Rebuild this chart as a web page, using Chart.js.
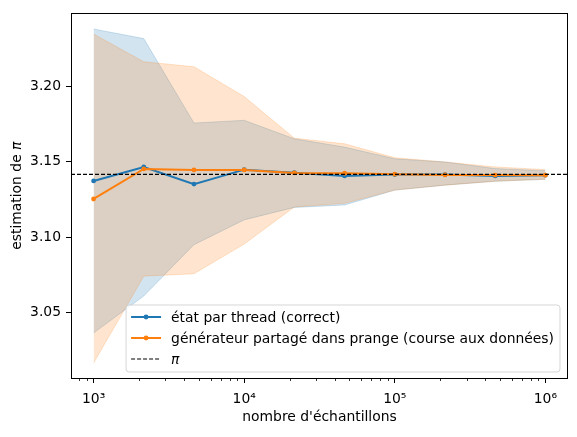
<!DOCTYPE html>
<html><head><meta charset="utf-8">
<script src="https://cdn.jsdelivr.net/npm/chart.js@4/dist/chart.umd.min.js"></script>
<style>html,body{margin:0;padding:0;background:#fff}#wrap{width:577px;height:437px}canvas{display:block}</style>
</head><body>
<div id="wrap"><canvas id="c" width="577" height="437"></canvas></div>
<script>
const samples = [1000, 2154, 4642, 10000, 21544, 46416, 100000, 215443, 464159, 1000000];
const perThreadMean = [3.1373, 3.1466, 3.1352, 3.1448, 3.1428, 3.1406, 3.1415, 3.1415, 3.1406, 3.1411];
const perThreadLow  = [3.0362, 3.0608, 3.0949, 3.1114, 3.1197, 3.1213, 3.1312, 3.1345, 3.1371, 3.1384];
const perThreadHigh = [3.2383, 3.2319, 3.1758, 3.1776, 3.1653, 3.1598, 3.1520, 3.1499, 3.1455, 3.1441];
const sharedMean = [3.1253, 3.1453, 3.1446, 3.1446, 3.1426, 3.1424, 3.1418, 3.1413, 3.1412, 3.1411];
const sharedLow  = [3.0162, 3.0740, 3.0756, 3.0953, 3.1200, 3.1224, 3.1312, 3.1345, 3.1371, 3.1384];
const sharedHigh = [3.2350, 3.2165, 3.2132, 3.1934, 3.1657, 3.1620, 3.1527, 3.1499, 3.1466, 3.1448];
const piValue = Math.PI;
const xTicks = [1e3, 1e4, 1e5, 1e6];
const yTicks = [3.05, 3.10, 3.15, 3.20];
const seriesLabels = ["état par thread (correct)", "générateur partagé dans prange (course aux données)", "π"];
const xTitle = "nombre d'échantillons";
const yTitleMain = "estimation de ";
const yTitleSymbol = "π";
const xMin = 708, xMax = 1.413e6, yMin = 3.0063, yMax = 3.2487;

const BLUE = '#1f77b4', ORANGE = '#ff7f0e';
const BLUE_A = 'rgba(31,119,180,0.2)', ORANGE_A = 'rgba(255,127,14,0.2)';
const FONT = 'DejaVu Sans';
const FS = 13.9;

const pts = arr => samples.map((x, i) => ({x, y: arr[i]}));
const sup = {'0':'⁰','1':'¹','2':'²','3':'³','4':'⁴','5':'⁵','6':'⁶','7':'⁷','8':'⁸','9':'⁹','-':'⁻'};

const datasets = [
  {label: seriesLabels[2], data: [{x: xMin, y: piValue}, {x: xMax, y: piValue}], borderColor: '#000', borderWidth: 1.2, borderDash: [4, 2], pointRadius: 0, fill: false, order: 0},
  {label: seriesLabels[1], data: pts(sharedMean), borderColor: ORANGE, backgroundColor: ORANGE, borderWidth: 2, pointRadius: 2.4, pointBorderWidth: 0, fill: false, order: 1},
  {label: seriesLabels[0], data: pts(perThreadMean), borderColor: BLUE, backgroundColor: BLUE, borderWidth: 2, pointRadius: 2.4, pointBorderWidth: 0, fill: false, order: 2},
  {label: 'sh-high', data: pts(sharedHigh), borderColor: ORANGE_A, backgroundColor: ORANGE_A, borderWidth: 1, pointRadius: 0, fill: '+1', order: 3},
  {label: 'sh-low', data: pts(sharedLow), borderColor: ORANGE_A, backgroundColor: ORANGE_A, borderWidth: 1, pointRadius: 0, fill: false, order: 3},
  {label: 'pt-high', data: pts(perThreadHigh), borderColor: BLUE_A, backgroundColor: BLUE_A, borderWidth: 1, pointRadius: 0, fill: '+1', order: 4},
  {label: 'pt-low', data: pts(perThreadLow), borderColor: BLUE_A, backgroundColor: BLUE_A, borderWidth: 1, pointRadius: 0, fill: false, order: 4}
];

const decor = {
  id: 'decor',
  afterDraw(chart) {
    const ctx = chart.ctx, a = chart.chartArea, xs = chart.scales.x;
    ctx.save();
    // minor ticks on log x axis
    ctx.strokeStyle = '#000'; ctx.lineWidth = 0.8;
    for (let e = 2; e <= 6; e++) {
      for (let m = 2; m <= 9; m++) {
        const v = m * Math.pow(10, e);
        if (v < xMin || v > xMax) continue;
        const px = Math.round(xs.getPixelForValue(v)) + 0.5;
        ctx.beginPath(); ctx.moveTo(px, a.bottom); ctx.lineTo(px, a.bottom + 3); ctx.stroke();
      }
    }
    // y axis title with italic pi
    const normalFont = FS + 'px "' + FONT + '"';
    const italicFont = 'italic ' + FS + 'px "' + FONT + '"';
    ctx.font = normalFont;
    const w1 = ctx.measureText(yTitleMain).width;
    ctx.font = italicFont;
    const w2 = ctx.measureText(yTitleSymbol).width;
    const cyT = (a.top + a.bottom) / 2;
    ctx.translate(17, cyT);
    ctx.rotate(-Math.PI / 2);
    ctx.fillStyle = '#000'; ctx.textBaseline = 'middle'; ctx.textAlign = 'left';
    const start = -(w1 + w2) / 2;
    ctx.font = normalFont; ctx.fillText(yTitleMain, start, 0);
    ctx.font = italicFont; ctx.fillText(yTitleSymbol, start + w1, 0);
    ctx.setTransform(1, 0, 0, 1, 0, 0);
    // legend
    ctx.font = normalFont;
    const items = [
      {text: seriesLabels[0], color: BLUE, dash: false},
      {text: seriesLabels[1], color: ORANGE, dash: false},
      {text: seriesLabels[2], color: '#000', dash: true}
    ];
    let maxW = 0;
    items.forEach(it => { maxW = Math.max(maxW, ctx.measureText(it.text).width); });
    const right = a.right - 8, bottom = a.bottom - 6;
    const w = 5 + 30 + 10 + maxW + 6, h = 67;
    const left = right - w, top = bottom - h;
    const r = 3;
    ctx.beginPath();
    ctx.moveTo(left + r, top); ctx.lineTo(right - r, top); ctx.arcTo(right, top, right, top + r, r);
    ctx.lineTo(right, bottom - r); ctx.arcTo(right, bottom, right - r, bottom, r);
    ctx.lineTo(left + r, bottom); ctx.arcTo(left, bottom, left, bottom - r, r);
    ctx.lineTo(left, top + r); ctx.arcTo(left, top, left + r, top, r);
    ctx.closePath();
    ctx.fillStyle = 'rgba(255,255,255,0.8)'; ctx.fill();
    ctx.strokeStyle = 'rgba(204,204,204,0.8)'; ctx.lineWidth = 1; ctx.stroke();
    items.forEach((it, i) => {
      const cy = top + 12 + i * 21;
      const x0 = left + 5, x1 = x0 + 30;
      ctx.beginPath();
      ctx.strokeStyle = it.color;
      ctx.lineWidth = it.dash ? 1.2 : 2;
      ctx.setLineDash(it.dash ? [4, 2] : []);
      ctx.moveTo(x0, cy); ctx.lineTo(x1, cy); ctx.stroke();
      ctx.setLineDash([]);
      if (!it.dash) {
        ctx.beginPath(); ctx.fillStyle = it.color; ctx.arc((x0 + x1) / 2, cy, 2.4, 0, Math.PI * 2); ctx.fill();
      }
      ctx.fillStyle = '#000';
      ctx.textBaseline = 'middle'; ctx.textAlign = 'left';
      ctx.font = it.dash ? italicFont : normalFont;
      ctx.fillText(it.text, x1 + 10, cy + 1);
      ctx.font = normalFont;
    });
    // spines
    ctx.strokeStyle = '#000'; ctx.lineWidth = 1;
    ctx.strokeRect(Math.round(a.left) + 0.5, Math.round(a.top) + 0.5, Math.round(a.right - a.left) - 1, Math.round(a.bottom - a.top));
    ctx.restore();
  }
};

new Chart(document.getElementById('c'), {
  type: 'line',
  data: {datasets},
  options: {
    responsive: false,
    animation: false,
    devicePixelRatio: 1,
    layout: {padding: {left: 0, right: 9, top: 10, bottom: 0}},
    plugins: {legend: {display: false}, tooltip: {enabled: false}},
    elements: {line: {tension: 0}},
    scales: {
      x: {
        type: 'logarithmic', min: xMin, max: xMax,
        afterBuildTicks: s => { s.ticks = xTicks.map(v => ({value: v})); },
        afterFit: s => { s.height = 59; },
        grid: {display: true, drawOnChartArea: false, drawTicks: true, tickLength: 5, color: '#000', lineWidth: 1},
        border: {display: false},
        ticks: {
          color: '#000', padding: 8, maxRotation: 0, autoSkip: false,
          font: {family: FONT, size: FS},
          callback: v => '10' + String(Math.round(Math.log10(v))).split('').map(c => sup[c]).join('')
        },
        title: {display: true, text: xTitle, color: '#000', font: {family: FONT, size: FS}, padding: {top: 0, bottom: 11}}
      },
      y: {
        type: 'linear', min: yMin, max: yMax,
        afterBuildTicks: s => { s.ticks = yTicks.map(v => ({value: v})); },
        afterFit: s => { s.width = 71; },
        grid: {display: true, drawOnChartArea: false, drawTicks: true, tickLength: 5, color: '#000', lineWidth: 1},
        border: {display: false},
        ticks: {color: '#000', padding: 5, font: {family: FONT, size: FS}, callback: v => Number(v).toFixed(2)},
        title: {display: false}
      }
    }
  },
  plugins: [decor]
});
</script>
</body></html>
